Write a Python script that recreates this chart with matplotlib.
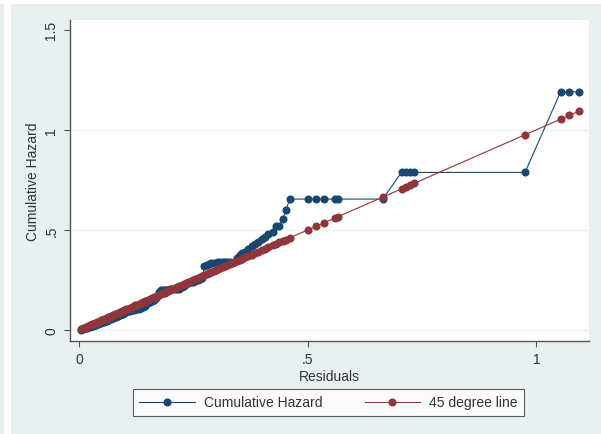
import numpy as np
import matplotlib.pyplot as plt
from matplotlib.patches import Rectangle

# Cox-Snell residuals (sorted) and Nelson-Aalen cumulative hazard
resid = [
    0.004, 0.007, 0.009, 0.012, 0.015, 0.017, 0.020, 0.023, 0.026, 0.028,
    0.031, 0.034, 0.037, 0.040, 0.042, 0.045, 0.048, 0.051, 0.054, 0.057,
    0.060, 0.063, 0.066, 0.069, 0.072, 0.075, 0.078, 0.081, 0.084, 0.087,
    0.090, 0.093, 0.096, 0.099,
    0.103, 0.107, 0.111, 0.115, 0.119, 0.123, 0.127, 0.131, 0.135, 0.139,
    0.143, 0.147, 0.151, 0.155, 0.159, 0.163, 0.167, 0.171, 0.175, 0.179,
    0.183, 0.187, 0.191, 0.195, 0.199,
    0.204, 0.209, 0.214, 0.219, 0.224, 0.229, 0.234, 0.239, 0.244, 0.249,
    0.254, 0.259, 0.264, 0.269,
    0.274, 0.279, 0.284, 0.289, 0.294, 0.299, 0.304, 0.309, 0.314, 0.319,
    0.324, 0.329,
    0.334, 0.339, 0.345, 0.351, 0.357, 0.363, 0.370,
    0.377, 0.384, 0.392, 0.399, 0.406, 0.414, 0.423, 0.430, 0.438, 0.446,
    0.452, 0.461,
    0.501, 0.518, 0.535, 0.559, 0.565, 0.664, 0.705, 0.715, 0.724, 0.733,
    0.975, 1.053, 1.072, 1.093,
]
cumhaz = [
    0.002, 0.004, 0.006, 0.008, 0.010, 0.012, 0.014, 0.016, 0.018, 0.020,
    0.022, 0.025, 0.027, 0.030, 0.032, 0.035, 0.037, 0.040, 0.042, 0.045,
    0.047, 0.050, 0.053, 0.056, 0.058, 0.061, 0.064, 0.067, 0.070, 0.073,
    0.076, 0.079, 0.082, 0.085,
    0.089, 0.093, 0.096, 0.099, 0.101, 0.103, 0.105, 0.106, 0.108, 0.114,
    0.122, 0.130, 0.137, 0.142, 0.147, 0.152, 0.158, 0.168, 0.190, 0.198,
    0.200, 0.201, 0.201, 0.202, 0.203,
    0.203, 0.204, 0.205, 0.207, 0.215, 0.222, 0.228, 0.233, 0.238, 0.242,
    0.246, 0.250, 0.254, 0.258,
    0.318, 0.326, 0.330, 0.333, 0.335, 0.337, 0.338, 0.339, 0.340, 0.340,
    0.341, 0.341,
    0.336, 0.342, 0.360, 0.375, 0.385, 0.392, 0.405,
    0.418, 0.428, 0.442, 0.455, 0.465, 0.480, 0.492, 0.518, 0.522, 0.557,
    0.600, 0.654,
    0.654, 0.654, 0.654, 0.654, 0.654, 0.654, 0.787, 0.787, 0.787, 0.787,
    0.787, 1.190, 1.190, 1.190,
]

xticks = [0, 0.5, 1]
xticklabels = ["0", ".5", "1"]
yticks = [0, 0.5, 1, 1.5]
yticklabels = ["0", ".5", "1", "1.5"]

navy = "#1a476f"
maroon = "#90353b"
bg = "#e8f0f2"
axcol = "#555555"
txtcol = "#333333"
fs = 10

plt.rcParams['font.family'] = ['Liberation Sans', 'DejaVu Sans']

fig = plt.figure(figsize=(6.01, 4.35), dpi=100, facecolor="white")

# Stata-like graph background
fig.patches.append(Rectangle((11 / 601, 0), 1 - 11 / 601, 1 - 5 / 435,
                             transform=fig.transFigure, facecolor=bg,
                             edgecolor="none", zorder=-10))
fig.patches.append(Rectangle((0, 0), 4 / 601, 1 - 5 / 435,
                             transform=fig.transFigure, facecolor=bg,
                             edgecolor="none", zorder=-10))

ax = fig.add_axes([70 / 601, 1 - 341.7 / 435, 519 / 601, 320.7 / 435])
ax.set_facecolor("white")

ax.plot(resid, cumhaz, color=navy, lw=0.8, marker="o", ms=4.8,
        mec=navy, mfc=navy, label="Cumulative Hazard", zorder=3)
ax.plot(resid, resid, color=maroon, lw=0.8, marker="o", ms=4.8,
        mec=maroon, mfc=maroon, label="45 degree line", zorder=4)

ax.set_xlim(-0.02, 1.115)
ax.set_ylim(-0.053, 1.548)

ax.set_xticks(xticks)
ax.set_xticklabels(xticklabels)
ax.set_yticks(yticks)
ax.set_yticklabels(yticklabels, rotation=90, va="center")

for y in yticks[:-1]:
    ax.axhline(y, color="#eaf2f3", lw=1.0, zorder=1)

for pos in ["top", "right"]:
    ax.spines[pos].set_visible(False)
for pos in ["left", "bottom"]:
    ax.spines[pos].set_color(axcol)
    ax.spines[pos].set_linewidth(1.0)

ax.tick_params(direction="out", length=4.3, width=0.8, color=axcol,
               labelsize=fs, labelcolor=txtcol, pad=4)

ax.set_xlabel("Residuals", fontsize=fs, color=txtcol, labelpad=2)
ax.set_ylabel("Cumulative Hazard", fontsize=fs, color=txtcol, labelpad=3)

leg = fig.legend(loc="center",
                 bbox_to_anchor=(133 / 601, 1 - 417 / 435, 391 / 601, 27 / 435),
                 mode="expand", ncol=2, fontsize=fs, frameon=True, fancybox=False,
                 handlelength=4.0, handletextpad=0.65,
                 borderpad=0.45, borderaxespad=0)
frame = leg.get_frame()
frame.set_edgecolor(txtcol)
frame.set_linewidth(0.8)
frame.set_facecolor("white")
for t in leg.get_texts():
    t.set_color(txtcol)

fig.savefig("out.png", dpi=100, facecolor=fig.get_facecolor())
